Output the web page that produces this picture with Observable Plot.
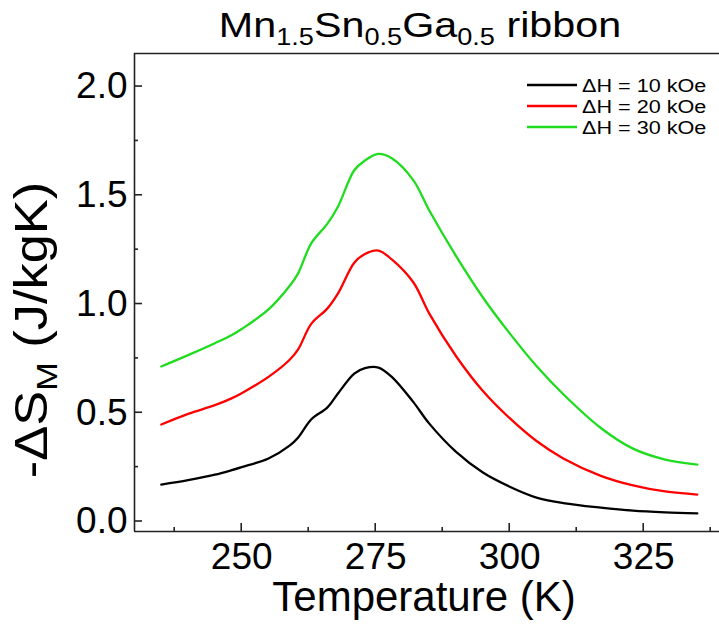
<!DOCTYPE html>
<html><head><meta charset="utf-8">
<script src="https://cdn.jsdelivr.net/npm/d3@7"></script>
<script src="https://cdn.jsdelivr.net/npm/@observablehq/plot@0.6"></script>
<style>
body{margin:0;background:#fff;}
#wrap{position:relative;width:719px;height:634px;}
</style></head><body><div id="wrap"></div>
<script>
// ---- data ----
const temperature = [235, 240, 245, 248, 250, 255, 259, 260.5, 263, 266, 268, 271, 273, 275.5, 278, 282, 285, 290, 295, 300, 305, 310, 317, 323, 329, 335];
const dH10 = [0.17, 0.19, 0.215, 0.235, 0.25, 0.29, 0.35, 0.385, 0.47, 0.525, 0.59, 0.68, 0.705, 0.708, 0.665, 0.55, 0.45, 0.32, 0.225, 0.16, 0.11, 0.085, 0.064, 0.05, 0.042, 0.037];
const dH20 = [0.446, 0.495, 0.535, 0.565, 0.59, 0.665, 0.745, 0.79, 0.91, 0.98, 1.05, 1.19, 1.23, 1.246, 1.205, 1.1, 0.956, 0.76, 0.6, 0.475, 0.37, 0.29, 0.21, 0.166, 0.138, 0.124];
const dH30 = [0.713, 0.765, 0.82, 0.855, 0.885, 0.975, 1.085, 1.14, 1.28, 1.37, 1.45, 1.615, 1.66, 1.69, 1.67, 1.57, 1.43, 1.22, 1.03, 0.865, 0.715, 0.585, 0.43, 0.335, 0.285, 0.262];
const seriesNames = ["ΔH = 10 kOe", "ΔH = 20 kOe", "ΔH = 30 kOe"];
const seriesColors = ["#000000", "#ff0000", "#1fdc1f"];
const xMajorTicks = [250, 275, 300, 325];
const xMinorTicks = [237.5, 262.5, 287.5, 312.5, 337.5];
const yMajorTicks = [0, 0.5, 1.0, 1.5, 2.0];
const yMinorTicks = [0.25, 0.75, 1.25, 1.75];
const titleParts = [["Mn", false], ["1.5", true], ["Sn", false], ["0.5", true], ["Ga", false], ["0.5", true], [" ribbon", false]];
const yLabelParts = [["-ΔS", false], ["M", true], [" (J/kgK)", false]];
const xLabel = "Temperature (K)";

const xDomain = [230, 339.14];
const yDomain = [-0.046, 2.152];

const data = [];
[dH10, dH20, dH30].forEach((vals, i) => vals.forEach((v, j) => data.push({T: temperature[j], S: v, series: seriesNames[i]})));

const axisColor = "#222";
const plot = Plot.plot({
  width: 719, height: 634,
  marginLeft: 134, marginRight: 0, marginTop: 53, marginBottom: 103,
  style: {fontFamily: "'Liberation Sans', Arial, sans-serif", background: "#fff", color: "#000"},
  x: {domain: xDomain},
  y: {domain: yDomain},
  color: {domain: seriesNames, range: seriesColors},
  marks: [
    Plot.line(data, {x: "T", y: "S", stroke: "series", strokeWidth: 2.3, curve: "catmull-rom"}),
    Plot.ruleX([xDomain[0]], {stroke: axisColor, strokeWidth: 1.6}),
    Plot.ruleY([yDomain[0]], {stroke: axisColor, strokeWidth: 1.6}),
    Plot.ruleY([yDomain[1]], {stroke: axisColor, strokeWidth: 1.6}),
    Plot.axisX(xMajorTicks, {tickSize: 0, tickPadding: 11, label: null, fontSize: 37, tickFormat: d => String(d), fill: "#000"}),
    Plot.axisY(yMajorTicks, {tickSize: 0, tickPadding: 7, label: null, fontSize: 37, tickFormat: d3.format(".1f"), fill: "#000"})
  ]
});
document.getElementById("wrap").appendChild(plot);
const svg = d3.select(plot);
const sx = plot.scale("x"), sy = plot.scale("y");

// inward ticks, positioned through Plot's own scales
const tickG = svg.append("g").attr("stroke", axisColor).attr("stroke-width", 1.6);
const yBottom = sy.apply(yDomain[0]), xLeft = sx.apply(xDomain[0]);
[[xMajorTicks, 8], [xMinorTicks, 4]].forEach(([ticks, len]) => ticks.forEach(v => {
  const x = sx.apply(v);
  tickG.append("line").attr("x1", x).attr("x2", x).attr("y1", yBottom).attr("y2", yBottom - len);
}));
[[yMajorTicks, 8], [yMinorTicks, 4]].forEach(([ticks, len]) => ticks.forEach(v => {
  const y = sy.apply(v);
  tickG.append("line").attr("x1", xLeft).attr("x2", xLeft + len).attr("y1", y).attr("y2", y);
}));

function richText(g, parts, size, subSize, shift) {
  const t = g.append("text").attr("text-anchor", "middle").attr("font-size", size).attr("fill", "#000");
  let down = false;
  parts.forEach(([s, sub]) => {
    const ts = t.append("tspan").text(s);
    if (sub && !down) { ts.attr("font-size", subSize).attr("dy", shift); down = true; }
    else if (!sub && down) { ts.attr("dy", -shift); down = false; }
    else if (sub) ts.attr("font-size", subSize);
  });
  return t;
}

// title
const tg = svg.append("g").attr("transform", "translate(420,37) scale(1.18,1)");
richText(tg, titleParts, 35, 23, 8);

// y label
const yg = svg.append("g").attr("transform", "translate(47,330) rotate(-90) scale(1.14,1)");
richText(yg, yLabelParts, 46, 30, 10);

// x label
svg.append("text").attr("x", 424).attr("y", 611).attr("text-anchor", "middle")
  .attr("font-size", 42).attr("fill", "#000").text(xLabel);

// legend
const lg = svg.append("g");
seriesNames.forEach((name, i) => {
  const y = 85 + 21 * i;
  lg.append("line").attr("x1", 527).attr("x2", 577).attr("y1", y).attr("y2", y)
    .attr("stroke", seriesColors[i]).attr("stroke-width", 2.3);
  const t = lg.append("text").attr("x", 582).attr("y", y + 6.5).attr("text-anchor", "start")
    .attr("font-size", 18).attr("fill", "#000").text(name);
  const w = t.node().getComputedTextLength();
  t.attr("textLength", w * 1.2).attr("lengthAdjust", "spacingAndGlyphs");
});
</script></body></html>
